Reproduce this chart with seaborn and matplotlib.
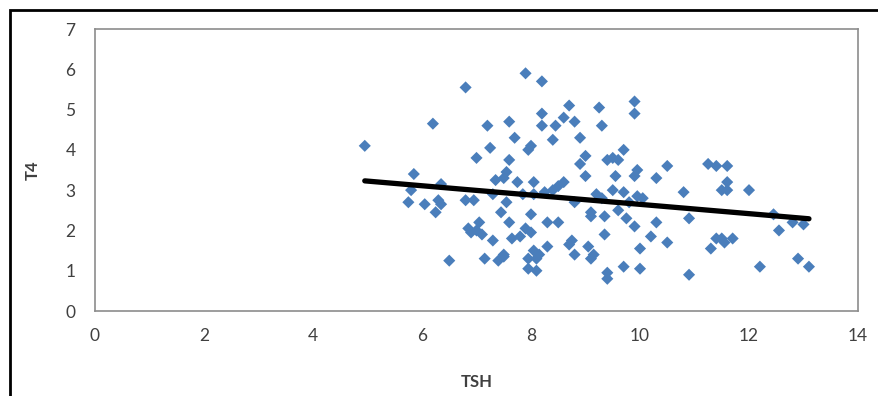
import matplotlib
matplotlib.use("Agg")
import matplotlib.pyplot as plt
import numpy as np
import pandas as pd
import seaborn as sns

# values (TSH vs T4)
tsh = [4.95, 5.75, 5.8, 5.85, 6.05, 6.2, 6.25, 6.3, 6.35, 6.5, 6.35,
       6.8, 6.8, 6.85, 6.9, 6.95, 7.0, 7.0, 7.05, 7.1, 7.15, 7.2, 7.25, 7.3, 7.3,
       7.35, 7.4, 7.45, 7.5, 7.5, 7.5, 7.55, 7.55, 7.6, 7.6, 7.6, 7.65, 7.7, 7.75,
       7.8, 7.85,
       7.9, 7.9, 7.95, 7.95, 7.95, 8.0, 8.0, 8.0, 8.05, 8.05, 8.05, 8.1, 8.1, 8.15,
       8.2, 8.2, 8.2, 8.25, 8.3, 8.3, 8.4, 8.4, 8.45, 8.5, 8.5, 8.6, 8.6, 8.7, 8.7,
       8.75, 8.8, 8.8, 8.8, 8.9, 8.9, 9.0, 9.0, 9.05, 9.1, 9.1, 9.1, 9.15, 9.2,
       9.25, 9.3, 9.3, 9.35, 9.35, 9.4, 9.4, 9.4, 9.5, 9.5, 9.55, 9.6, 9.6, 9.7,
       9.7, 9.7, 9.75, 9.8, 9.9, 9.9, 9.9, 9.9, 9.95, 9.95, 10.0, 10.0, 10.05,
       10.2, 10.3, 10.3, 10.5, 10.5, 10.8, 10.9, 10.9,
       11.25, 11.4, 11.6, 11.6, 11.5, 11.6, 11.3, 11.4, 11.5, 11.55, 11.7, 12.0,
       12.2, 12.45, 12.55, 12.8, 12.9, 13.0, 13.1]
t4 = [4.1, 2.7, 3.0, 3.4, 2.65, 4.65, 2.45, 2.75, 3.15, 1.25, 2.65,
      5.55, 2.75, 2.05, 1.95, 2.75, 2.0, 3.8, 2.2, 1.9, 1.3, 4.6, 4.05, 2.9, 1.75,
      3.25, 1.25, 2.45, 1.35, 1.4, 3.3, 2.7, 3.45, 4.7, 3.75, 2.2, 1.8, 4.3, 3.2,
      1.85, 2.9,
      5.9, 2.05, 4.0, 1.05, 1.3, 2.4, 1.95, 4.1, 3.2, 2.9, 1.5, 1.0, 1.3, 1.4,
      5.7, 4.6, 4.9, 2.95, 2.2, 1.6, 3.0, 4.25, 4.6, 3.1, 2.2, 4.8, 3.2, 5.1, 1.65,
      1.75, 4.7, 2.7, 1.4, 3.65, 4.3, 3.35, 3.85, 1.6, 2.45, 1.3, 2.35, 1.4, 2.9,
      5.05, 4.6, 2.8, 2.35, 1.9, 0.95, 0.8, 3.75, 3.8, 3.0, 3.35, 3.75, 2.5, 4.0,
      2.95, 1.1, 2.3, 2.7, 5.2, 4.9, 3.35, 2.1, 3.5, 2.85, 1.05, 1.55, 2.8,
      1.85, 3.3, 2.2, 3.6, 1.7, 2.95, 2.3, 0.9,
      3.65, 3.6, 3.6, 3.2, 3.0, 3.0, 1.55, 1.8, 1.8, 1.7, 1.8, 3.0,
      1.1, 2.4, 2.0, 2.2, 1.3, 2.15, 1.1]

x_ticks = [0, 2, 4, 6, 8, 10, 12, 14]
y_ticks = [0, 1, 2, 3, 4, 5, 6, 7]

df = pd.DataFrame({"TSH": tsh, "T4": t4})

sns.set_style("white")
plt.rcParams["font.family"] = ["Lato", "DejaVu Sans"]

fig = plt.figure(figsize=(8.79, 3.96), dpi=100)
ax = fig.add_axes([95 / 879, 1 - 311 / 396, (858 - 95) / 879, (311 - 29) / 396])

sns.scatterplot(data=df, x="TSH", y="T4", ax=ax, marker="D", s=38,
                color="#4A7EBB", edgecolor="none", zorder=3)
sns.regplot(data=df, x="TSH", y="T4", ax=ax, scatter=False, ci=None,
            truncate=True, line_kws={"color": "black", "lw": 3.8,
                                     "solid_capstyle": "round", "zorder": 4})

ax.set_xlim(0, 14)
ax.set_ylim(0, 7)
ax.set_xticks(x_ticks)
ax.set_yticks(y_ticks)
ax.tick_params(axis="both", length=0, labelsize=12.5, labelcolor="#404040")
ax.tick_params(axis="x", pad=12)
ax.tick_params(axis="y", pad=14)
for side in ["left", "bottom", "top", "right"]:
    ax.spines[side].set_color("#8C8C8C")
    ax.spines[side].set_linewidth(1.2)

ax.set_xlabel("TSH", fontsize=12, fontweight="bold", color="#404040", labelpad=22)
ax.set_ylabel("T4", fontsize=12, fontweight="bold", color="#404040", labelpad=18)

# outer chart border
fig.patches.append(plt.Rectangle((10 / 879, -0.1), 1.2, 1 - 10 / 396 + 0.1,
                                 transform=fig.transFigure, fill=False,
                                 edgecolor="black", linewidth=2))

fig.savefig("out.png", dpi=100)
